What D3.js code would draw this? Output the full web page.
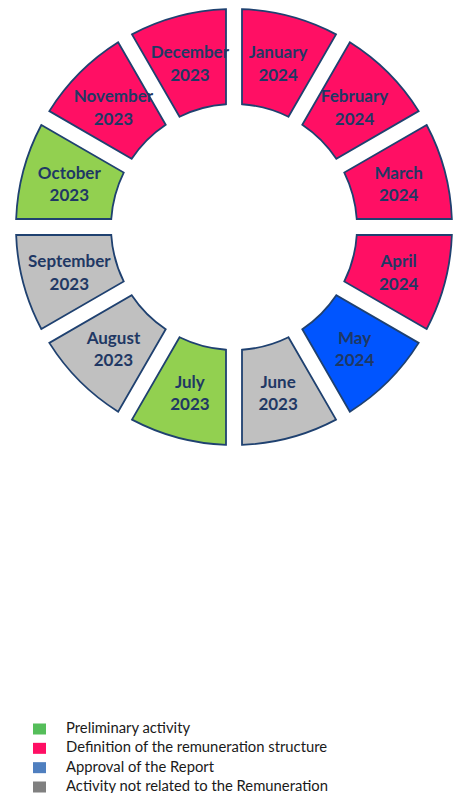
<!DOCTYPE html>
<html>
<head>
<meta charset="utf-8">
<script src="https://cdn.jsdelivr.net/npm/d3@7"></script>
<style>
  html, body { margin: 0; padding: 0; background: #ffffff; }
  svg { display: block; }
</style>
</head>
<body>
<svg id="chart" width="454" height="793"></svg>
<script>
// Months in clockwise order starting at 12 o'clock
const months = ["January","February","March","April","May","June","July","August","September","October","November","December"];
const years  = ["2024","2024","2024","2024","2024","2023","2023","2023","2023","2023","2023","2023"];
const activity = ["def","def","def","def","approval","other","prelim","other","other","prelim","def","def"];
const values = [1,1,1,1,1,1,1,1,1,1,1,1];

const legendKeys   = ["prelim","def","approval","other"];
const legendLabels = ["Preliminary activity","Definition of the remuneration structure","Approval of the Report","Activity not related to the Remuneration"];
const sliceColors  = ["#92D050","#FF0F64","#0055FF","#C0C0C0"];
const legendColors = ["#55BE5A","#FF0F64","#4F7FBF","#808080"];

const svg = d3.select("#chart");

const cx = 234, cy = 227;
const rOuter = 218, rInner = 123;
const gapHalf = 8;

const sliceColor = d3.scaleOrdinal().domain(legendKeys).range(sliceColors);
const legendColor = d3.scaleOrdinal().domain(legendKeys).range(legendColors);

const data = months.map((m, i) => ({ month: m, year: years[i], act: activity[i], v: values[i] }));

const pie = d3.pie().value(d => d.v).sort(null)
  .padAngle(2 * Math.asin(gapHalf / rOuter));
const arc = d3.arc().innerRadius(rInner).outerRadius(rOuter).padRadius(rOuter);
const labelArc = d3.arc().innerRadius(rInner).outerRadius(rOuter);

const g = svg.append("g").attr("transform", `translate(${cx},${cy})`);

const arcs = pie(data);

g.selectAll("path.slice").data(arcs).join("path")
  .attr("class", "slice")
  .attr("d", arc)
  .attr("fill", d => sliceColor(d.data.act))
  .attr("stroke", "#1F4170")
  .attr("stroke-width", 1.8)
  .attr("stroke-linejoin", "miter");

const labels = g.selectAll("text.lbl").data(arcs).join("text")
  .attr("class", "lbl")
  .attr("text-anchor", "middle")
  .attr("font-family", "Lato, 'Open Sans', sans-serif")
  .attr("font-weight", "bold")
  .attr("font-size", 17)
  .attr("fill", "#1F3864");

labels.append("tspan")
  .attr("x", d => labelArc.centroid(d)[0])
  .attr("y", d => labelArc.centroid(d)[1] - 4)
  .text(d => d.data.month);
labels.append("tspan")
  .attr("x", d => labelArc.centroid(d)[0])
  .attr("y", d => labelArc.centroid(d)[1] + 18.5)
  .text(d => d.data.year);

// Legend
const ly = d3.scaleLinear().domain([0, legendLabels.length - 1]).range([733, 791]);
const leg = svg.append("g");
const rows = leg.selectAll("g").data(legendKeys).join("g")
  .attr("transform", (d, i) => `translate(0,${ly(i)})`);
rows.append("rect")
  .attr("x", 33).attr("y", -9.5)
  .attr("width", 13).attr("height", 11)
  .attr("fill", d => legendColor(d));
rows.append("text")
  .attr("x", 66).attr("y", 0)
  .attr("font-family", "Lato, 'Open Sans', sans-serif")
  .attr("font-size", 14.8)
  .attr("fill", "#1a1a1a")
  .text((d, i) => legendLabels[i]);
</script>
</body>
</html>
